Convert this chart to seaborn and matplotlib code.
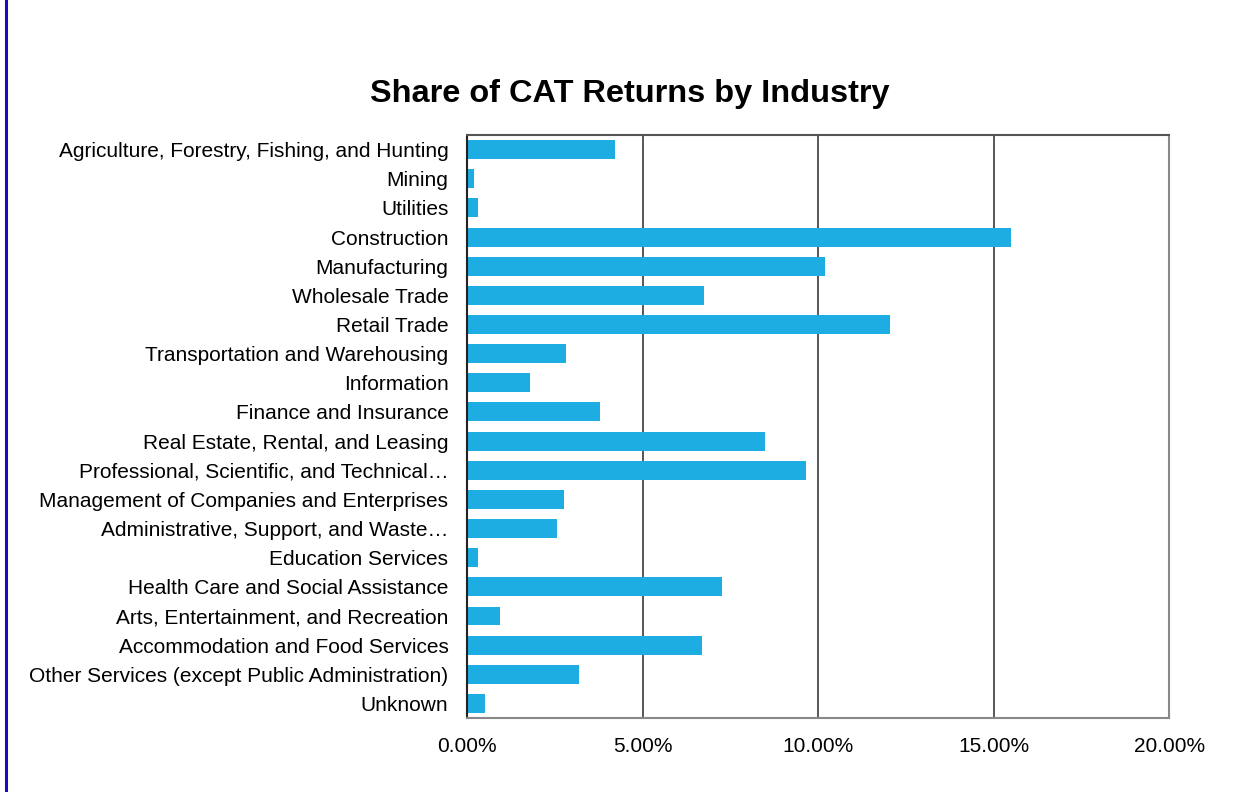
import matplotlib
matplotlib.use("Agg")
import matplotlib.pyplot as plt
import seaborn as sns
import pandas as pd
from matplotlib.ticker import FuncFormatter
from matplotlib.lines import Line2D

industries = [
    "Agriculture, Forestry, Fishing, and Hunting",
    "Mining",
    "Utilities",
    "Construction",
    "Manufacturing",
    "Wholesale Trade",
    "Retail Trade",
    "Transportation and Warehousing",
    "Information",
    "Finance and Insurance",
    "Real Estate, Rental, and Leasing",
    "Professional, Scientific, and Technical…",
    "Management of Companies and Enterprises",
    "Administrative, Support, and Waste…",
    "Education Services",
    "Health Care and Social Assistance",
    "Arts, Entertainment, and Recreation",
    "Accommodation and Food Services",
    "Other Services (except Public Administration)",
    "Unknown",
]
shares = [4.20, 0.19, 0.32, 15.50, 10.20, 6.74, 12.06, 2.83, 1.79, 3.79,
          8.50, 9.66, 2.76, 2.57, 0.32, 7.25, 0.93, 6.68, 3.18, 0.51]
x_ticks = [0, 5, 10, 15, 20]

df = pd.DataFrame({"Industry": industries, "Share": shares})

sns.set_theme(style="white")
plt.rcParams["font.family"] = ["Liberation Sans", "DejaVu Sans"]

fig = plt.figure(figsize=(12.49, 7.92), dpi=100)
ax = fig.add_axes([0.374, 0.0934, 0.562, 0.7361])

sns.barplot(data=df, x="Share", y="Industry", color="#1EADE2", saturation=1,
            width=0.65, orient="h", ax=ax, zorder=3, linewidth=0)

ax.set_xlim(0, 20)
ax.set_xticks(x_ticks)
ax.xaxis.set_major_formatter(FuncFormatter(lambda v, p: f"{v:.2f}%"))
ax.set_xlabel("")
ax.set_ylabel("")
ax.tick_params(axis="x", length=0, pad=14, labelsize=15, colors="black")
ax.tick_params(axis="y", length=0, pad=13.5, labelsize=15, colors="black")
for v in x_ticks[1:-1]:
    ax.axvline(v, color="#2a2a2a", lw=1.1, zorder=1)

ax.spines["left"].set_color("#222222")
ax.spines["top"].set_color("#555555")
ax.spines["right"].set_color("#888888")
ax.spines["bottom"].set_color("#888888")
for s in ax.spines.values():
    s.set_linewidth(1.5)
    s.set_visible(True)
    s.set_zorder(5)

fig.suptitle("Share of CAT Returns by Industry", x=0.504, y=0.9,
             fontsize=23.4, fontweight="bold", color="black")

fig.add_artist(Line2D([0.0048, 0.0048], [0, 1], color="#1010C0", lw=2.2,
                      transform=fig.transFigure))

fig.savefig("out.png", dpi=100)
